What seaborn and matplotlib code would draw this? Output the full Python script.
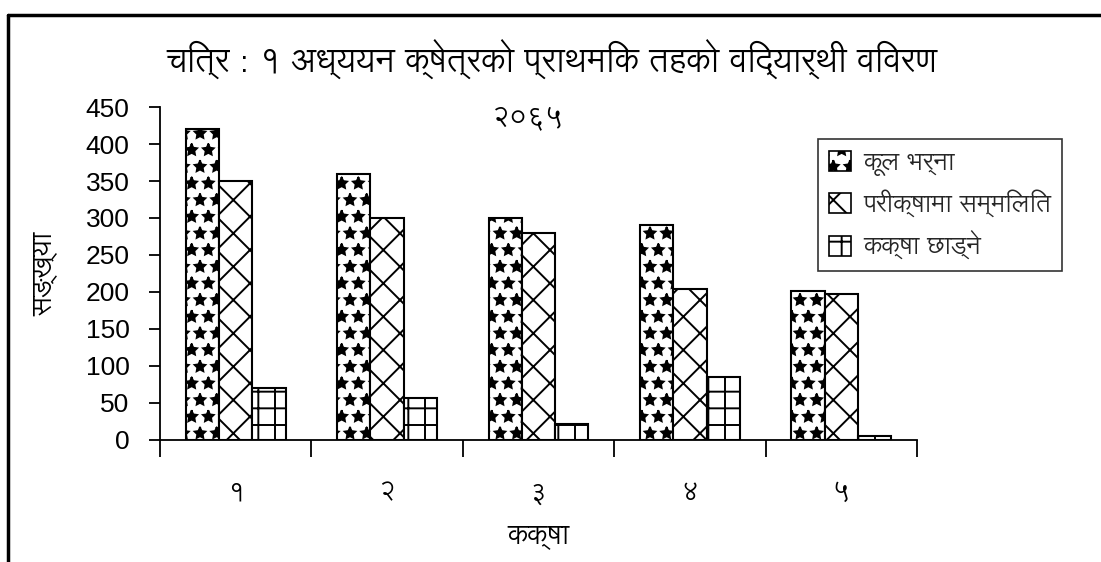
import numpy as np
import pandas as pd
import matplotlib
matplotlib.use("Agg")
import matplotlib.pyplot as plt
import seaborn as sns
from matplotlib.patches import Patch
from matplotlib.lines import Line2D

# data
classes = ["१", "२", "३", "४", "५"]
series = ["कूल भर्ना", "परीक्षामा सम्मिलित", "कक्षा छाड्ने"]
enrolled = [420, 360, 300, 290, 202]
appeared = [350, 300, 280, 204, 197]
dropped = [70, 57, 22, 85, 5]
yticks = [0, 50, 100, 150, 200, 250, 300, 350, 400, 450]

title_text = "चित्र : १ अध्ययन क्षेत्रको प्राथमिक तहको विद्यार्थी विवरण"
subtitle_text = "२०६५"
xlabel_text = "कक्षा"
ylabel_text = "सङ्ख्या"

sns.set_theme(style="white")
plt.rcParams["font.family"] = ["Lohit Devanagari", "DejaVu Sans"]
plt.rcParams["hatch.linewidth"] = 1.4
plt.rcParams["hatch.color"] = "black"

df = pd.DataFrame({
    "class": classes * 3,
    "count": enrolled + appeared + dropped,
    "series": [s for s in series for _ in classes],
})

fig = plt.figure(figsize=(11.01, 5.62), dpi=100)
ax = fig.add_axes([0.1453, 0.2171, 0.6876, 0.5925])

sns.barplot(data=df, x="class", y="count", hue="series", hue_order=series,
            palette=["white"] * 3, edgecolor="black", linewidth=1.5,
            width=0.66, gap=0, legend=False, ax=ax, saturation=1)

hatches = ["*", "x", "+"]
for cont, h in zip(ax.containers, hatches):
    for bar in cont:
        bar.set_hatch(h)
        bar.set_facecolor("white")

ax.set_ylim(0, 450)
ax.set_xlim(-0.5, len(classes) - 0.5)
ax.set_yticks(yticks)
ax.set_yticklabels([str(v) for v in yticks], family="Liberation Sans", fontsize=19)
ax.tick_params(axis="y", left=True, direction="out", length=8, width=1.3,
               color="black", pad=14, labelcolor="black")

# category labels at centres, tick marks at the boundaries
ax.set_xticks(range(len(classes)))
ax.set_xticklabels(classes, fontsize=19)
ax.tick_params(axis="x", which="major", bottom=True, length=0, pad=29, labelcolor="black")
ax.set_xticks(np.arange(-0.5, len(classes)), minor=True)
ax.tick_params(axis="x", which="minor", bottom=True, direction="out", length=12,
               width=1.3, color="black")

for side in ["top", "right"]:
    ax.spines[side].set_visible(False)
for side in ["left", "bottom"]:
    ax.spines[side].set_color("black")
    ax.spines[side].set_linewidth(1.3)

ax.set_xlabel(xlabel_text, fontsize=20, labelpad=11, color="black")
ax.set_ylabel(ylabel_text, fontsize=20, labelpad=20, color="black")

fig.text(0.501, 0.893, title_text, ha="center", va="center", fontsize=24, color="black")
fig.text(0.48, 0.79, subtitle_text, ha="center", va="center", fontsize=20, color="black")

handles = [Patch(facecolor="white", edgecolor="black", hatch=h, linewidth=1.2) for h in hatches]
leg = fig.legend(handles, series, loc="upper left", bbox_to_anchor=(0.743, 0.752),
                 borderaxespad=0, fontsize=18, frameon=True, fancybox=False,
                 handlelength=0.85, handleheight=0.85, handletextpad=0.5,
                 labelspacing=0.55, borderpad=0.45)
leg.get_frame().set_edgecolor("black")
leg.get_frame().set_linewidth(1.2)

# outer frame lines (top and left) as in the scanned page
fig.add_artist(Line2D([0.0073, 1.0], [0.973, 0.973], color="black", linewidth=2.5,
                      transform=fig.transFigure))
fig.add_artist(Line2D([0.0073, 0.0073], [0.0, 0.973], color="black", linewidth=2.5,
                      transform=fig.transFigure))

fig.savefig("out.png", dpi=100, facecolor="white")
